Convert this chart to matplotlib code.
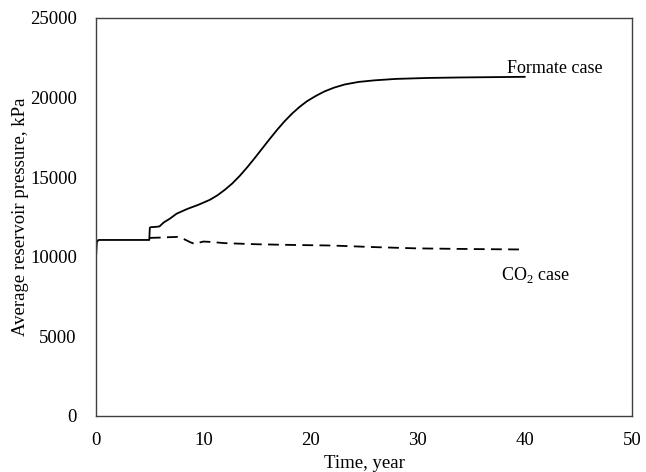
import matplotlib.pyplot as plt

plt.rcParams['font.family'] = ['Liberation Serif', 'DejaVu Serif']
plt.rcParams['mathtext.fontset'] = 'custom'
plt.rcParams['mathtext.rm'] = 'Liberation Serif'

# Formate case (solid)
t_formate = [0.0, 0.05, 0.2, 1, 3, 4.95, 5.0, 5.05, 5.5, 5.9, 6.3, 6.9, 7.5, 8.5, 9.5,
             10.6, 11.3, 12.0, 12.7, 13.4, 14.1, 14.8, 15.5, 16.2, 16.9, 17.6,
             18.3, 19.0, 19.7, 20.5, 21.3, 22.2, 23.2, 24.5, 26.0, 28.0, 31.0,
             34.0, 37.0, 40.0]
p_formate = [10200, 10900, 11050, 11050, 11050, 11050, 11800, 11850, 11870, 11900,
             12150, 12400, 12700, 13000, 13250, 13570, 13850, 14200, 14600, 15080,
             15620, 16200, 16800, 17400, 17980, 18520, 19000, 19420, 19780, 20100,
             20380, 20620, 20820, 20980, 21080, 21170, 21230, 21260, 21280, 21300]

# CO2 case (dashed)
t_co2 = [5.0, 6.0, 7.0, 7.6, 8.2, 8.8, 9.2, 9.6, 10.0, 10.6, 12.0, 15.0,
         18.0, 22.0, 26.0, 30.0, 35.0, 40.0]
p_co2 = [11180, 11200, 11230, 11240, 11100, 10900, 10800, 10880, 10950, 10930,
         10850, 10780, 10740, 10700, 10600, 10520, 10480, 10450]

fig = plt.figure(figsize=(6.46, 4.72), dpi=100)
ax = fig.add_axes([0.149, 0.119, 0.829, 0.843])

ax.plot(t_formate, p_formate, color='black', lw=1.3)
ax.plot(t_co2, p_co2, color='black', lw=1.3, linestyle=(0, (6, 3.5)))

ax.text(42.8, 21850, 'Formate case', ha='center', va='center', fontsize=13)
ax.text(41.0, 8860, 'CO$_\\mathrm{2}$ case', ha='center', va='center', fontsize=13)

ax.set_xlim(0, 50)
ax.set_ylim(0, 25000)
ax.set_xticks([0, 10, 20, 30, 40, 50])
ax.set_yticks([0, 5000, 10000, 15000, 20000, 25000])
ax.tick_params(length=0, labelsize=13.5)
ax.tick_params(axis='y', pad=14)
ax.tick_params(axis='x', pad=12)
for s in ax.spines.values():
    s.set_color('#404040')
    s.set_linewidth(1.0)

ax.set_xlabel('Time, year', fontsize=13.5, labelpad=4)
ax.set_ylabel('Average reservoir pressure, kPa', fontsize=13.5, labelpad=1)

fig.savefig('out.png', dpi=100)
